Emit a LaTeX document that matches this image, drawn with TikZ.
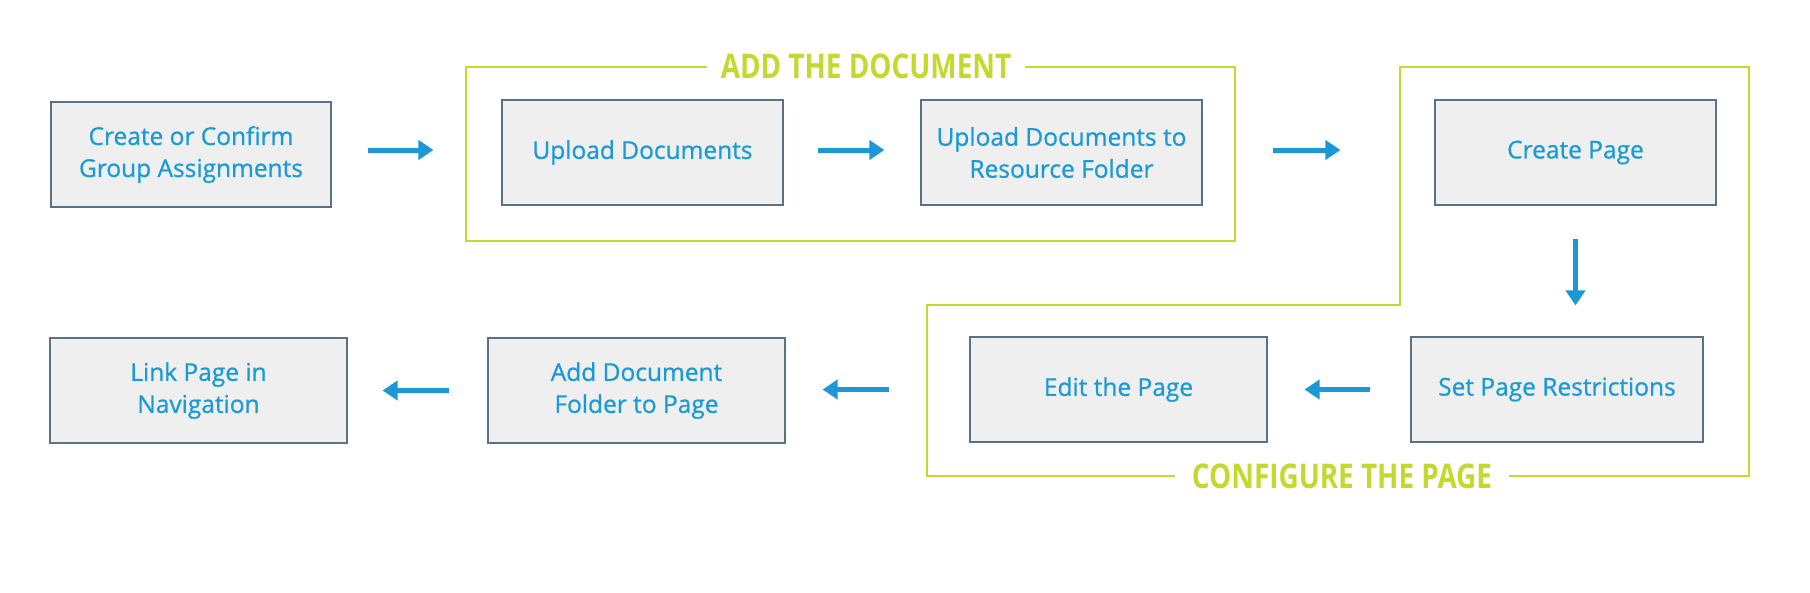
\documentclass[tikz,border=0pt]{standalone}
\usepackage{fontspec}
\setmainfont{Open Sans}[FakeBold=0.8]
\newfontfamily\titlefont{Open Sans}[BoldFont={Open Sans Bold}]
\usetikzlibrary{arrows.meta}
\definecolor{txtblue}{HTML}{1A9AD6}
\definecolor{arrblue}{HTML}{1B98D5}
\definecolor{boxfill}{HTML}{EFEFEF}
\definecolor{boxline}{HTML}{5A7186}
\definecolor{lime}{HTML}{C5D82E}
\tikzset{
  stepbox/.style={draw=boxline, line width=1.1pt, fill=boxfill, text=txtblue,
    align=center, inner sep=0pt, minimum height=105pt,
    font=\fontsize{24.5}{32}\selectfont},
  arr/.style={draw=arrblue, line width=5pt,
    -{Triangle[length=15pt,width=19pt]}},
  frame/.style={draw=lime, line width=2.5pt},
  title/.style={fill=white, text=lime, inner ysep=2pt,
    font=\fontsize{34}{36}\titlefont\bfseries}
}
\begin{document}
\begin{tikzpicture}[x=1pt,y=-1pt]
\useasboundingbox[fill=white] (0,0) rectangle (1810,592);

% frames
\draw[frame] (466,67) rectangle (1235,241);
\node[title, inner xsep=14pt] (t1) at (866,66) {\scalebox{0.82}[1]{ADD THE DOCUMENT}};
\draw[frame] (1400,67) -- (1749,67) -- (1749,476) -- (927,476) -- (927,305) -- (1400,305) -- cycle;
\node[title, inner xsep=17pt] (t2) at (1342,476) {\scalebox{0.82}[1]{CONFIGURE THE PAGE}};

% boxes
\node[stepbox, minimum width=280pt] (b1) at (191,154.5) {Create or Confirm\\Group Assignments};
\node[stepbox, minimum width=281pt] (b2) at (642.5,152.5) {Upload Documents};
\node[stepbox, minimum width=281pt] (b3) at (1061.5,152.5) {Upload Documents to\\Resource Folder};
\node[stepbox, minimum width=281pt] (b4) at (1575.5,152.5) {Create Page};
\node[stepbox, minimum width=292pt] (b5) at (1557,389.5) {Set Page Restrictions};
\node[stepbox, minimum width=297pt] (b6) at (1118.5,389.5) {Edit the Page};
\node[stepbox, minimum width=297pt] (b7) at (636.5,390.5) {Add Document\\Folder to Page};
\node[stepbox, minimum width=297pt] (b8) at (198.5,390.5) {Link Page in\\Navigation};

% arrows
\draw[arr, shorten <=36pt, shorten >=68pt] ([yshift=4.5pt]b1.east) -- ([yshift=4.5pt]b1.east -| b2.west);
\draw[arr, shorten <=34pt, shorten >=36pt] ([yshift=2.5pt]b2.east) -- ([yshift=2.5pt]b2.east -| b3.west);
\draw[arr, shorten <=70pt, shorten >=94pt] ([yshift=2.5pt]b3.east) -- ([yshift=2.5pt]b3.east -| b4.west);
\draw[arr, shorten <=33pt, shorten >=31pt] (b4.south) -- (b4.south |- b5.north);
\draw[arr, shorten <=40pt, shorten >=37pt] (b5.west) -- (b5.west -| b6.east);
\draw[arr, shorten <=80pt, shorten >=37pt] (b6.west) -- (b6.west -| b7.east);
\draw[arr, shorten <=38pt, shorten >=35pt] (b7.west) -- (b7.west -| b8.east);
\end{tikzpicture}
\end{document}
